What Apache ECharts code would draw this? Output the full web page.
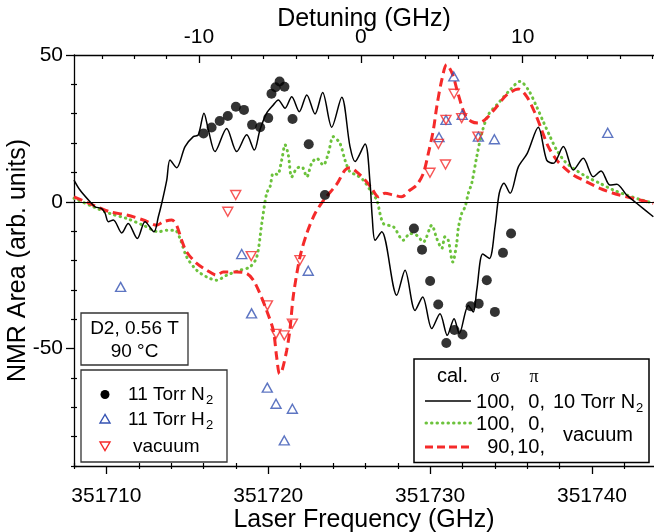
<!DOCTYPE html>
<html><head><meta charset="utf-8">
<script src="https://cdn.jsdelivr.net/npm/echarts@6/dist/echarts.min.js"></script>
<style>html,body{margin:0;padding:0;background:#fff}#c{width:654px;height:532px}</style>
</head><body><div id="c"></div>
<script>
// ---- calculated curves (Laser Frequency GHz, NMR area) ----
const calN2Freq = [351708.00,351708.37,351708.99,351709.30,351709.71,351709.92,351710.12,351710.43,351710.95,351711.35,351711.91,351712.39,351712.94,351713.21,351713.42,351713.73,351713.93,351714.34,351714.86,351715.37,351715.68,351716.03,351716.30,351716.71,351717.43,351718.05,351718.67,351719.14,351719.49,351719.90,351720.31,351720.62,351721.04,351721.45,351721.92,351722.38,351722.89,351723.36,351723.92,351724.54,351725.05,351725.36,351725.98,351726.29,351726.42,351726.60,351727.01,351727.94,351728.45,351729.07,351729.54,351730.10,351730.61,351731.06,351731.48,351731.80,351732.36,351732.67,351732.88,351733.25,351733.66,351734.01,351734.27,351734.56,351734.94,351735.45,351736.00,351736.68,351737.20,351737.61,351738.23,351738.85,351739.46,351740.08,351740.56,351741.11,351741.53,351742.14,351742.76,351743.79];
const calN2Area = [7.4,4.0,0,-1.7,-2.3,-3.9,-6.8,-6.2,-10.6,-7.4,-12.5,-6.8,-10.2,-5.1,-0.5,7.4,14.2,11.6,18.8,22.2,22.8,30.2,24.5,17.1,25.0,17.1,22.8,17.6,24.5,30.2,33.0,34.7,31.9,35.8,30.7,36.4,29.9,37.2,25.4,35.6,18.8,13.7,19.7,6.3,-5.0,-13.1,-10.2,-31.8,-23.3,-37.0,-32.4,-43.2,-38.1,-45.5,-39.8,-44.9,-35.3,-37.5,-30.1,-17.8,-19.3,-8.5,2.9,6.3,2.9,11.9,16.5,25.4,14.2,13.1,18.8,10.8,14.8,8.5,10.5,5.7,6.0,2.3,-0.5,-5.1];

const calVacSigmaFreq = [351708.00,351709.19,351710.22,351711.26,351712.28,351713.21,351713.73,351714.24,351714.55,351714.96,351715.58,351716.20,351716.82,351717.43,351718.26,351718.87,351719.29,351719.60,351719.90,351720.11,351720.31,351720.57,351720.83,351721.04,351721.24,351721.45,351721.76,351722.07,351722.38,351722.68,351722.99,351723.40,351723.71,351724.02,351724.43,351724.74,351725.05,351725.46,351725.87,351726.29,351726.70,351727.11,351727.73,351728.34,351728.76,351729.17,351729.58,351730.10,351730.41,351730.72,351730.92,351731.12,351731.40,351731.64,351731.74,351731.95,351732.16,351732.36,351732.57,351732.88,351733.19,351733.59,351734.21,351734.94,351735.55,351736.07,351736.58,351736.99,351737.41,351737.82,351738.33,351738.85,351739.67,351740.49,351741.32,351742.14,351742.96,351743.79];
const calVacSigmaArea = [1.2,-1.7,-4.0,-5.7,-8.0,-10.2,-9.7,-9.7,-12.5,-18.8,-23.3,-25.6,-26.7,-25.0,-23.3,-22.2,-18.8,-7.4,2.9,5.1,9.7,9.3,14.2,19.4,15.9,8.5,11.4,11.9,8.5,13.1,14.8,12.5,16.5,22.2,19.9,14.2,10.2,9.1,7.4,4.0,0.6,-7.4,-8.5,-13.1,-10.8,-11.4,-13.7,-8.0,-12.5,-15.9,-11.9,-13.1,-20.5,-14.2,-9.0,-4.0,-1.7,2.9,6.3,15.4,23.3,29.6,33.6,38.1,41.0,38.1,32.4,27.3,22.2,17.6,13.7,11.4,8.5,6.3,4.0,2.3,0.8,-0.5];

const calVacMixFreq = [351708.00,351709.19,351710.22,351711.26,351712.28,351713.11,351713.52,351714.04,351714.34,351714.65,351714.96,351715.58,351716.20,351716.82,351717.22,351718.05,351718.67,351719.08,351719.49,351719.90,351720.31,351720.52,351720.70,351720.85,351721.14,351721.34,351721.55,351721.96,351722.38,351722.89,351723.51,351724.23,351724.74,351725.05,351725.46,351725.98,351726.39,351726.80,351727.21,351727.73,351728.24,351728.76,351729.17,351729.58,351729.89,351730.20,351730.41,351730.72,351731.02,351731.38,351731.69,351732.16,351732.57,351732.98,351733.50,351734.11,351734.73,351735.45,351735.97,351736.48,351736.89,351737.30,351737.82,351738.33,351738.85,351739.67,351740.49,351741.32,351742.14,351742.96,351743.79];
const calVacMixArea = [1.7,-1.1,-3.4,-4.5,-6.2,-8.0,-6.8,-6.2,-8.0,-13.1,-17.1,-21.0,-23.3,-25.0,-23.9,-23.9,-24.4,-26.7,-31.3,-37.0,-43.8,-52.9,-58.6,-57.5,-50.6,-43.5,-32.0,-18.8,-10.8,-4.0,1.2,6.0,10.8,11.6,10.2,7.4,4.6,1.7,2.9,2.3,1.7,4.0,5.7,9.7,16.5,24.5,32.4,41.5,46.7,43.5,37.5,29.6,27.3,26.8,28.5,32.4,36.4,38.4,35.8,30.2,24.5,18.8,14.2,11.4,9.1,6.8,4.6,2.9,1.7,0.6,-0.5];

// ---- measured points ----
const n2Freq = [351716.0,351716.5,351717.0,351717.5,351718.0,351718.5,351719.0,351719.5,351720.0,351720.2,351720.45,351720.7,351721.0,351721.5,351722.5,351723.5,351729.0,351729.5,351730.0,351730.5,351731.0,351731.5,351732.0,351732.5,351733.0,351733.5,351734.0,351734.5,351735.0];
const n2Area = [23.3,25.3,27.5,29.2,32.4,31.3,26.2,25.4,28.5,36.8,39.0,41.0,39.2,28.2,19.6,2.3,-9.1,-16.3,-27.0,-35.0,-48.1,-43.7,-45.2,-35.6,-34.7,-26.7,-37.5,-17.4,-10.8];

const h2Freq = [351710.88,351718.36,351718.97,351719.94,351720.48,351720.99,351721.49,351722.47,351730.55,351730.98,351731.46,351731.98,351732.98,351733.97,351740.97];
const h2Area = [-29.0,-17.8,-38.0,-63.3,-68.8,-81.3,-70.5,-23.5,22.0,27.9,42.7,29.6,22.2,21.3,23.5];

const vacFreq = [351717.50,351717.99,351718.95,351719.95,351720.48,351720.99,351721.49,351721.96,351729.99,351730.51,351730.98,351730.95,351731.48,351731.95,351732.95];
const vacArea = [-3.4,2.3,-18.5,-35.3,-45.0,-45.5,-41.5,-19.9,9.9,19.7,27.9,12.7,36.8,28.5,22.2];

// ---- axes / ticks ----
const freqMajorTicks = [351710, 351720, 351730, 351740];
const freqMinorTicks = [351708,351712,351714,351716,351718,351722,351724,351726,351728,351732,351734,351736,351738,351742];
const detuningZero = 351725.72;
const detuningMajorTicks = [-10, 0, 10];
const detuningMinorTicks = [-16,-14,-12,-8,-6,-4,-2,2,4,6,8,12,14,16,18];
const areaMajorTicks = [-50, 0, 50];
const areaMinorTicks = [-90,-80,-70,-60,-40,-30,-20,-10,10,20,30,40];

const FREQ_MIN = 351708, FREQ_MAX = 351743.83, AREA_MIN = -90, AREA_MAX = 50;
const FONT = 'Liberation Sans';
const RED = '#f52a2a', GREEN = '#6cc23c', BLUE = '#3553b3';

const zip = (a, b) => a.map((v, i) => [v, b[i]]);
const detToFreq = d => +(d + detuningZero).toFixed(3);

const baseX = {type: 'value', min: FREQ_MIN, max: FREQ_MAX, splitLine: {show: false}, nameMoveOverlap: false};
const baseY = {type: 'value', min: AREA_MIN, max: AREA_MAX, splitLine: {show: false}, nameMoveOverlap: false};
const noLine = {show: false};

const chart = echarts.init(document.getElementById('c'), null, {renderer: 'canvas'});
chart.setOption({
  animation: false,
  backgroundColor: '#fff',
  grid: {left: 74, top: 55, width: 580, height: 411, containLabel: false, outerBoundsMode: 'none'},
  xAxis: [
    Object.assign({}, baseX, {
      position: 'bottom',
      name: 'Laser Frequency (GHz)', nameLocation: 'middle', nameGap: 42,
      nameTextStyle: {fontFamily: FONT, fontSize: 25, color: '#000'},
      axisLine: {onZero: false, lineStyle: {color: '#000', width: 1.3}},
      axisTick: {inside: false, length: 8, customValues: freqMajorTicks, lineStyle: {color: '#000', width: 1.3}},
      axisLabel: {customValues: freqMajorTicks, margin: 20, fontFamily: FONT, fontSize: 21, color: '#000', formatter: v => String(v)}
    }),
    Object.assign({}, baseX, {
      position: 'bottom', axisLine: {show: false, onZero: false}, axisLabel: noLine,
      axisTick: {inside: false, length: 3, customValues: freqMinorTicks, lineStyle: {color: '#000', width: 1.2}}
    }),
    Object.assign({}, baseX, {
      position: 'bottom', axisLine: {show: false, onZero: false}, axisLabel: noLine,
      axisTick: {inside: true, length: 3, customValues: freqMinorTicks, lineStyle: {color: '#000', width: 1.2}}
    }),
    Object.assign({}, baseX, {
      position: 'top',
      name: 'Detuning (GHz)', nameLocation: 'middle', nameGap: 23,
      nameTextStyle: {fontFamily: FONT, fontSize: 25, color: '#000'},
      axisLine: {onZero: false, lineStyle: {color: '#000', width: 1.3}},
      axisTick: {inside: true, length: 8, customValues: detuningMajorTicks.map(detToFreq), lineStyle: {color: '#000', width: 1.3}},
      axisLabel: {customValues: detuningMajorTicks.map(detToFreq), margin: 7, fontFamily: FONT, fontSize: 21, color: '#000',
        formatter: v => String(Math.round(v - detuningZero))}
    }),
    Object.assign({}, baseX, {
      position: 'top', axisLine: {show: false, onZero: false}, axisLabel: noLine,
      axisTick: {inside: true, length: 4, customValues: detuningMinorTicks.map(detToFreq), lineStyle: {color: '#000', width: 1.2}}
    })
  ],
  yAxis: [
    Object.assign({}, baseY, {
      position: 'left',
      name: 'NMR Area (arb. units)', nameLocation: 'middle', nameGap: 43,
      nameTextStyle: {fontFamily: FONT, fontSize: 25, color: '#000'},
      axisLine: {onZero: false, lineStyle: {color: '#000', width: 1.3}},
      axisTick: {inside: false, length: 8, customValues: areaMajorTicks, lineStyle: {color: '#000', width: 1.3}},
      axisLabel: {customValues: areaMajorTicks, margin: 11, fontFamily: FONT, fontSize: 21, color: '#000'}
    }),
    Object.assign({}, baseY, {
      position: 'left', axisLine: {show: false, onZero: false}, axisLabel: noLine,
      axisTick: {inside: false, length: 3, customValues: areaMinorTicks, lineStyle: {color: '#000', width: 1.2}}
    }),
    Object.assign({}, baseY, {
      position: 'left', axisLine: {show: false, onZero: false}, axisLabel: noLine,
      axisTick: {inside: true, length: 3, customValues: areaMinorTicks, lineStyle: {color: '#000', width: 1.2}}
    })
  ],
  series: [
    {type: 'line', name: 'cal 100,0 vacuum', data: zip(calVacSigmaFreq, calVacSigmaArea), showSymbol: false, smooth: 0.3,
     lineStyle: {color: GREEN, width: 3, type: [0.5, 5], cap: 'round'}, z: 2,
     markLine: {silent: true, symbol: ['none', 'none'], label: {show: false}, lineStyle: {color: '#000', width: 1.2, type: 'solid'}, data: [{yAxis: 0}]}},
    {type: 'line', name: 'cal 90,10 vacuum', data: zip(calVacMixFreq, calVacMixArea), showSymbol: false, smooth: 0.3,
     lineStyle: {color: RED, width: 3, type: [9, 5]}, z: 3},
    {type: 'line', name: 'cal 100,0 10 Torr N2', data: zip(calN2Freq, calN2Area), showSymbol: false, smooth: 0.3,
     lineStyle: {color: '#000', width: 1.5}, z: 4},
    {type: 'scatter', name: '11 Torr N2', data: zip(n2Freq, n2Area), symbol: 'circle', symbolSize: 10,
     itemStyle: {color: '#000'}, z: 5},
    {type: 'scatter', name: '11 Torr H2', data: zip(h2Freq, h2Area), symbol: 'triangle', symbolSize: [10, 9],
     itemStyle: {color: 'rgba(255,255,255,0)', borderColor: BLUE, borderWidth: 1.4}, z: 5},
    {type: 'scatter', name: 'vacuum', data: zip(vacFreq, vacArea), symbol: 'triangle', symbolSize: [10, 9], symbolRotate: 180,
     itemStyle: {color: 'rgba(255,255,255,0)', borderColor: RED, borderWidth: 1.4}, z: 5}
  ],
  graphic: [
    // left info box
    {type: 'rect', shape: {x: 81, y: 313, width: 107, height: 52}, style: {fill: '#fff', stroke: '#333', lineWidth: 1.3}, z: 10},
    {type: 'text', x: 134.5, y: 328.5, style: {text: 'D2, 0.56 T', font: '19px "Liberation Sans"', fill: '#000', align: 'center', verticalAlign: 'middle'}, z: 11},
    {type: 'text', x: 134.5, y: 351.5, style: {text: '90 °C', font: '19px "Liberation Sans"', fill: '#000', align: 'center', verticalAlign: 'middle'}, z: 11},
    // left legend box
    {type: 'rect', shape: {x: 81, y: 370, width: 146, height: 92}, style: {fill: '#fff', stroke: '#333', lineWidth: 1.3}, z: 10},
    {type: 'circle', shape: {cx: 105, cy: 394.5, r: 4.5}, style: {fill: '#000'}, z: 11},
    {type: 'text', x: 128, y: 395, style: {text: '11 Torr N', font: '19px "Liberation Sans"', fill: '#000', verticalAlign: 'middle'}, z: 11},
    {type: 'text', x: 206, y: 400, style: {text: '2', font: '13px "Liberation Sans"', fill: '#000', verticalAlign: 'middle'}, z: 11},
    {type: 'polygon', shape: {points: [[105, 414.5], [100, 423], [110, 423]]}, style: {fill: 'none', stroke: BLUE, lineWidth: 1.4}, z: 11},
    {type: 'text', x: 128, y: 420, style: {text: '11 Torr H', font: '19px "Liberation Sans"', fill: '#000', verticalAlign: 'middle'}, z: 11},
    {type: 'text', x: 206, y: 425, style: {text: '2', font: '13px "Liberation Sans"', fill: '#000', verticalAlign: 'middle'}, z: 11},
    {type: 'polygon', shape: {points: [[100, 442], [110, 442], [105, 450.5]]}, style: {fill: 'none', stroke: RED, lineWidth: 1.4}, z: 11},
    {type: 'text', x: 133, y: 446.5, style: {text: 'vacuum', font: '19px "Liberation Sans"', fill: '#000', verticalAlign: 'middle'}, z: 11},
    // right legend box
    {type: 'rect', shape: {x: 414, y: 359, width: 235, height: 103.5}, style: {fill: '#fff', stroke: '#000', lineWidth: 1.5}, z: 10},
    {type: 'text', x: 437, y: 376, style: {text: 'cal.', font: '20px "Liberation Sans"', fill: '#000', verticalAlign: 'middle'}, z: 11},
    {type: 'text', x: 495, y: 377, style: {text: 'σ', font: '18px "Liberation Serif"', fill: '#000', align: 'center', verticalAlign: 'middle'}, z: 11},
    {type: 'text', x: 534, y: 377, style: {text: 'π', font: '18px "Liberation Serif"', fill: '#000', align: 'center', verticalAlign: 'middle'}, z: 11},
    {type: 'line', shape: {x1: 425, y1: 401, x2: 471, y2: 401}, style: {stroke: '#000', lineWidth: 1.6}, z: 11},
    {type: 'text', x: 515, y: 402, style: {text: '100,', font: '20px "Liberation Sans"', fill: '#000', align: 'right', verticalAlign: 'middle'}, z: 11},
    {type: 'text', x: 545, y: 402, style: {text: '0,', font: '20px "Liberation Sans"', fill: '#000', align: 'right', verticalAlign: 'middle'}, z: 11},
    {type: 'text', x: 553, y: 402, style: {text: '10 Torr N', font: '20px "Liberation Sans"', fill: '#000', verticalAlign: 'middle'}, z: 11},
    {type: 'text', x: 636, y: 408, style: {text: '2', font: '13px "Liberation Sans"', fill: '#000', verticalAlign: 'middle'}, z: 11},
    {type: 'line', shape: {x1: 426, y1: 423, x2: 471, y2: 423}, style: {stroke: GREEN, lineWidth: 3, lineDash: [0.5, 5], lineCap: 'round'}, z: 11},
    {type: 'text', x: 515, y: 424, style: {text: '100,', font: '20px "Liberation Sans"', fill: '#000', align: 'right', verticalAlign: 'middle'}, z: 11},
    {type: 'text', x: 545, y: 424, style: {text: '0,', font: '20px "Liberation Sans"', fill: '#000', align: 'right', verticalAlign: 'middle'}, z: 11},
    {type: 'line', shape: {x1: 425, y1: 447, x2: 471, y2: 447}, style: {stroke: RED, lineWidth: 3, lineDash: [8, 4]}, z: 11},
    {type: 'text', x: 515, y: 447, style: {text: '90,', font: '20px "Liberation Sans"', fill: '#000', align: 'right', verticalAlign: 'middle'}, z: 11},
    {type: 'text', x: 545, y: 447, style: {text: '10,', font: '20px "Liberation Sans"', fill: '#000', align: 'right', verticalAlign: 'middle'}, z: 11},
    {type: 'text', x: 563, y: 435, style: {text: 'vacuum', font: '20px "Liberation Sans"', fill: '#000', verticalAlign: 'middle'}, z: 11}
  ]
});
</script></body></html>
